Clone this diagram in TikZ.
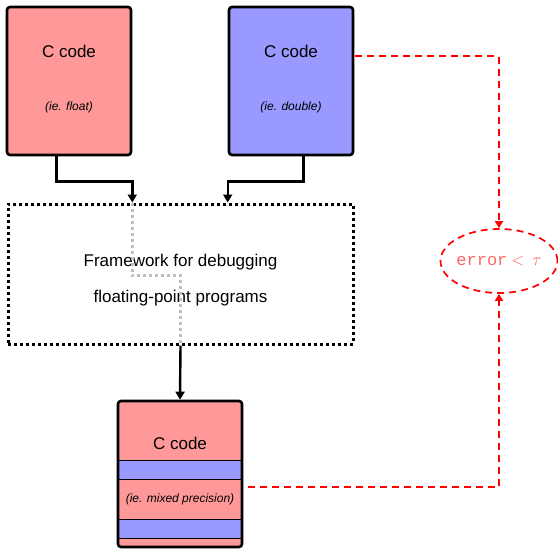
\documentclass[tikz,border=0pt]{standalone}
\usepackage{fontspec}
\setmainfont{Liberation Sans}
\setmonofont{Liberation Mono}
\usetikzlibrary{calc,shapes.geometric,arrows.meta}
\definecolor{pinkc}{HTML}{FF9999}
\definecolor{bluec}{HTML}{9999FF}
\tikzset{
  x={(1pt,0)}, y={(0,-1pt)},
  codebox/.style={draw=black, line width=2.6pt, rounded corners=3pt,
    minimum width=124pt, inner sep=0pt},
  big/.style={font=\fontsize{17}{20}\selectfont},
  note/.style={font=\fontsize{12}{14}\selectfont\itshape},
  flow/.style={draw=black, line width=2.4pt,
    -{Triangle[width=9pt,length=8pt]}},
  frame/.style={draw=black, line width=3pt, dash pattern=on 3pt off 3pt},
  trace/.style={draw=black!25, line width=2.5pt, dash pattern=on 3pt off 3pt},
  check/.style={draw=red, line width=1.7pt, dash pattern=on 7pt off 5pt},
  checkarrow/.style={check, -{Triangle[width=8pt,length=7pt]}},
}
\begin{document}
\begin{tikzpicture}
\useasboundingbox (0,0) rectangle (558,549);

% single-precision and double-precision sources
\node[codebox, fill=pinkc, minimum height=148pt] (f) at (69,81) {};
\node[big] at (69,51) {C code};
\node[note] at (69,107) {(ie. float)};
\node[codebox, fill=bluec, minimum height=148pt] (b) at (291,81) {};
\node[big] at (291,51) {C code};
\node[note] at (291,107) {(ie. double)};

% the framework
\node[frame, minimum width=345pt, minimum height=140pt] (fw) at (180.5,274) {};
\node[big, align=center] at (180.5,280) {Framework for debugging\\[16pt]floating-point programs};

% mixed-precision result
\begin{scope}
  \fill[pinkc] (118,401) rectangle (242,547);
  \fill[bluec] (118,460) rectangle (242,479);
  \fill[bluec] (118,519) rectangle (242,538);
  \draw[line width=1pt] (118,460) -- (242,460) (118,479) -- (242,479)
                        (118,519) -- (242,519) (118,538) -- (242,538);
\end{scope}
\node[codebox, minimum height=146pt] (m) at (180,474) {};
\node[big] at (180,443) {C code};
\node[note] at (180,499) {(ie. mixed precision)};

% error test
\node[ellipse, check, minimum width=117pt, minimum height=64pt, inner sep=-2pt,
  text=red!60] (err) at (499,261)
  {\fontsize{17}{20}\selectfont\texttt{error}\hspace{4pt}$<\,\tau$};

% flows into and out of the framework
\draw[flow] ($(f.south west)!0.4!(f.south east)$) -- ++(0,25) -| (fw.north -| f.east);
\draw[flow] ($(b.south west)!0.6!(b.south east)$) -- ++(0,25) -| (fw.north -| b.west);
\draw[trace] (fw.north -| f.east) -- ++(0,73) -| (fw.south);
\draw[flow] (fw.south) -- (m.north);

% comparison against the reference result
\coordinate (bo) at ($(b.north east)+(1,50.5)$);
\coordinate (mo) at ($(m.east)+(5,13)$);
\draw[checkarrow] (bo) -| (err.north);
\draw[checkarrow] (mo) -| (err.south);
\end{tikzpicture}
\end{document}
